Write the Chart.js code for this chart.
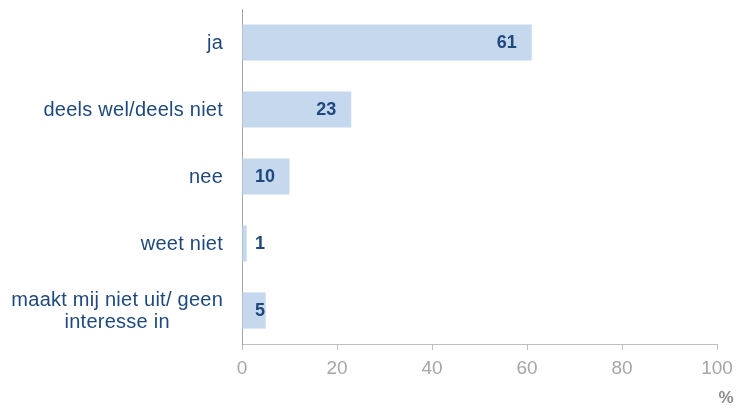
<!DOCTYPE html>
<html>
<head>
<meta charset="utf-8">
<script src="https://cdn.jsdelivr.net/npm/chart.js@4/dist/chart.umd.min.js"></script>
<style>
  html, body { margin: 0; padding: 0; background: #fff; }
  #wrap { width: 738px; height: 409px; position: relative; }
</style>
</head>
<body>
<div id="wrap"><canvas id="chart"></canvas></div>
<script>
const categories = [
    ['ja'],
    ['deels wel/deels niet'],
    ['nee'],
    ['weet niet'],
    ['maakt mij niet uit/ geen', 'interesse in']
];
const values = [61, 23, 10, 1, 5];
const xTicks = [0, 20, 40, 60, 80, 100];
const unitLabel = '%';

const FONT = "'Liberation Sans', Arial, sans-serif";
const barColor = '#c6d8ee';
const textBlue = '#1f497d';
const axisGrey = '#bfbfbf';
const tickGrey = '#a6a6a6';

// category labels + value labels, drawn after the bars
const labelPlugin = {
    id: 'labelPlugin',
    afterDatasetsDraw(chart) {
        const ctx = chart.ctx;
        const x = chart.scales.x;
        const y = chart.scales.y;
        ctx.save();

        // category names, right aligned; multi-line ones centred as a block
        ctx.font = '20px ' + FONT;
        ctx.letterSpacing = '0.25px';
        ctx.fillStyle = textBlue;
        ctx.textBaseline = 'middle';
        ctx.textAlign = 'left';
        const rightEdge = x.left - 19;
        const lineH = 22;
        categories.forEach((lines, i) => {
            const cy = y.getPixelForValue(i) + 1;
            const widths = lines.map(l => ctx.measureText(l).width);
            const maxW = Math.max(...widths);
            lines.forEach((l, j) => {
                const ly = cy + (j - (lines.length - 1) / 2) * lineH;
                const lx = rightEdge - maxW / 2 - widths[j] / 2;
                ctx.fillText(l, lx, ly);
            });
        });

        // value labels, inside end of the bar or just past the axis
        ctx.font = 'bold 18px ' + FONT;
        ctx.letterSpacing = '0px';
        const meta = chart.getDatasetMeta(0);
        meta.data.forEach((bar, i) => {
            const txt = String(values[i]);
            const w = ctx.measureText(txt).width;
            const lx = Math.max(bar.x - 15 - w, x.left + 13);
            ctx.fillText(txt, lx, bar.y + 1);
        });

        // unit label under the axis end
        ctx.font = 'bold 17px ' + FONT;
        ctx.fillStyle = '#8c8c8c';
        ctx.textAlign = 'center';
        ctx.fillText(unitLabel, x.right + 9, 398);
        ctx.restore();
    }
};

new Chart(document.getElementById('chart'), {
    type: 'bar',
    data: {
        labels: categories,
        datasets: [{
            data: values,
            backgroundColor: barColor,
            borderWidth: 0,
            categoryPercentage: 1,
            barPercentage: 0.54
        }]
    },
    options: {
        indexAxis: 'y',
        responsive: true,
        maintainAspectRatio: false,
        animation: false,
        layout: { padding: { top: 9, right: 21, left: 0, bottom: 0 } },
        plugins: {
            legend: { display: false },
            tooltip: { enabled: false }
        },
        scales: {
            x: {
                min: 0,
                max: 100,
                afterBuildTicks: (scale) => {
                    scale.ticks = xTicks.map(v => ({ value: v }));
                },
                afterFit: (scale) => {
                    scale.height = 65;
                    scale.paddingLeft = 0;
                    scale.paddingRight = 0;
                },
                grid: {
                    drawOnChartArea: false,
                    drawTicks: true,
                    tickLength: 6,
                    color: axisGrey
                },
                border: { display: true, color: axisGrey, width: 1 },
                ticks: {
                    padding: 7,
                    color: tickGrey,
                    font: { family: FONT, size: 19 },
                    maxRotation: 0
                }
            },
            y: {
                afterFit: (scale) => { scale.width = 242; },
                grid: { display: false },
                border: { display: true, color: tickGrey, width: 1 },
                ticks: { display: false }
            }
        }
    },
    plugins: [labelPlugin]
});
</script>
</body>
</html>
